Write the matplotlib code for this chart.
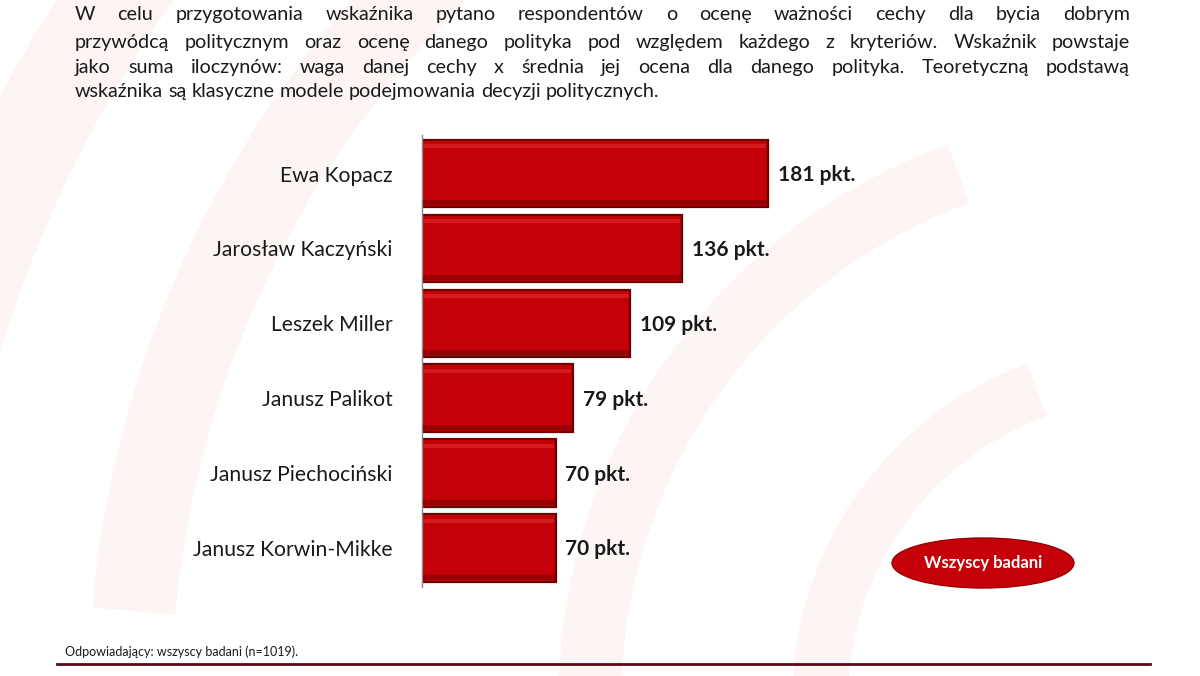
import matplotlib
matplotlib.use('Agg')
import matplotlib.pyplot as plt
import matplotlib.patches as patches

names = ['Ewa Kopacz', 'Jarosław Kaczyński', 'Leszek Miller', 'Janusz Palikot',
         'Janusz Piechociński', 'Janusz Korwin-Mikke']
values = [181, 136, 109, 79, 70, 70]
value_labels = ['181 pkt.', '136 pkt.', '109 pkt.', '79 pkt.', '70 pkt.', '70 pkt.']

intro_lines = [
    'W celu przygotowania wskaźnika pytano respondentów o ocenę ważności cechy dla bycia dobrym',
    'przywódcą politycznym oraz ocenę danego polityka pod względem każdego z kryteriów. Wskaźnik powstaje',
    'jako suma iloczynów: waga danej cechy x średnia jej  ocena dla danego polityka. Teoretyczną podstawą',
    'wskaźnika są klasyczne modele podejmowania decyzji politycznych.',
]
footnote = 'Odpowiadający: wszyscy badani (n=1019).'
badge = 'Wszyscy badani'

W, H = 1200, 676
plt.rcParams['font.family'] = ['Lato', 'DejaVu Sans']

fig = plt.figure(figsize=(12, 6.76), dpi=100)
fig.patch.set_facecolor('white')


def fx(px):
    return px / W


def fy(py):
    return 1 - py / H


# very faint watermark arcs in the background
bg = fig.add_axes([0, 0, 1, 1], zorder=-5)
bg.set_xlim(0, W)
bg.set_ylim(H, 0)
bg.axis('off')
for (cx, cy, r, t1, t2, lw) in [(1150, 700, 1250, 185, 260, 70),
                                (1150, 700, 1020, 185, 250, 60),
                                (1150, 700, 560, 170, 250, 45),
                                (1150, 700, 330, 170, 250, 40)]:
    bg.add_patch(patches.Arc((cx, cy), 2 * r, 2 * r, theta1=t1, theta2=t2,
                             color='#fdf4f4', lw=lw))

# justified intro paragraph (word by word, baseline aligned)
renderer = fig.canvas.get_renderer()
left, right = 75, 1130
baselines = [20, 48, 73, 97]
fs = 14.2
for k, line in enumerate(intro_lines):
    words = line.split()
    items = []
    for w in words:
        t = fig.text(0, 0, w, fontsize=fs, color='#1a1a1a', va='baseline')
        items.append((t, t.get_window_extent(renderer).width))
    total = sum(wd for _, wd in items)
    sp = fig.text(0, 0, 'a b', fontsize=fs)
    ab = fig.text(0, 0, 'ab', fontsize=fs)
    natural = sp.get_window_extent(renderer).width - ab.get_window_extent(renderer).width
    sp.remove()
    ab.remove()
    if k < len(intro_lines) - 1:
        gap = (right - left - total) / (len(words) - 1)
    else:
        gap = natural
    x = left
    for t, wd in items:
        t.set_position((fx(x), fy(baselines[k])))
        x += wd + gap

# bar chart
scale = 1.912  # px per point
ax_left, ax_right = 422, 1000
top_px, bot_px = 135, 587
pitch = 74.9
c0 = 173.5
ax = fig.add_axes([fx(ax_left), fy(bot_px), fx(ax_right - ax_left), (bot_px - top_px) / H])
ax.set_xlim(0, (ax_right - ax_left) / scale)
ax.set_ylim((bot_px - c0) / pitch, (top_px - c0) / pitch)
ax.patch.set_alpha(0)
for s in ['top', 'right', 'bottom']:
    ax.spines[s].set_visible(False)
ax.spines['left'].set_color('#888888')
ax.spines['left'].set_linewidth(1)
ax.set_xticks([])
ax.set_yticks(range(len(names)))
ax.set_yticklabels(names, fontsize=15.2, color='#1a1a1a')
ax.tick_params(axis='y', length=0, pad=21)

ypos = list(range(len(names)))
ax.barh(ypos, values, height=0.9, color='#c40008', edgecolor='#6e0000', linewidth=1.6, zorder=2)
# bevel: soft light strip at top, darker strip at bottom
ax.barh([y - 0.365 for y in ypos], [v - 1.5 for v in values], left=0.6, height=0.05,
        color='#d51c1c', linewidth=0, zorder=3)
ax.barh([y + 0.39 for y in ypos], [v - 1 for v in values], left=0.5, height=0.07,
        color='#960000', linewidth=0, zorder=3)

for y, v, lab in zip(ypos, values, value_labels):
    ax.text(v + 5, y + 0.02, lab, fontsize=15, fontweight='bold', color='#1a1a1a',
            va='center', ha='left')

# badge
bg.add_patch(patches.Ellipse((983, 563), 182, 50, facecolor='#c40008', edgecolor='#9a0000', lw=1))
bg.text(983, 563, badge, fontsize=12, fontweight='bold', color='white', ha='center', va='center')

# footnote and line
fig.text(fx(65), fy(652), footnote, fontsize=9, color='#1a1a1a', va='center')
bg.plot([57, 1150], [664, 664], color='#5a0a14', lw=2)

fig.savefig('out.png', dpi=100, facecolor='white')
